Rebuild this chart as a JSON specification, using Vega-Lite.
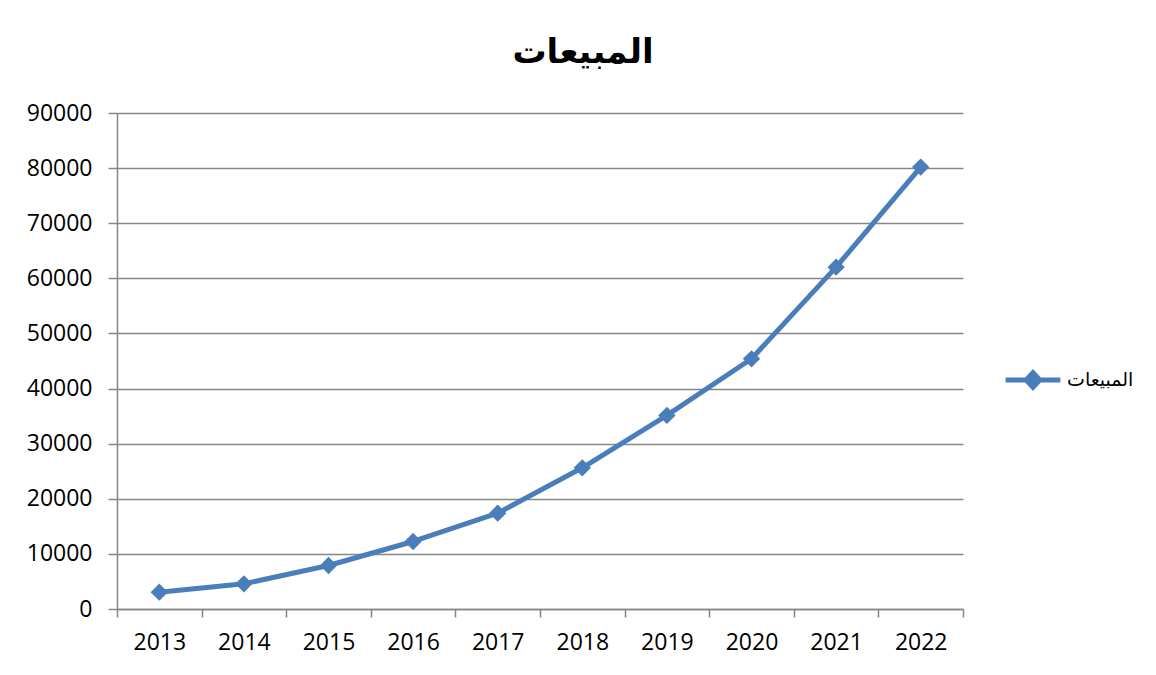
{
  "$schema": "https://vega.github.io/schema/vega-lite/v6.json",
  "width": 846,
  "height": 496,
  "autosize": {"type": "none"},
  "padding": {"left": 117, "top": 113, "right": 193, "bottom": 66},
  "background": "white",
  "title": {
    "text": "المبيعات",
    "font": "Liberation Sans, DejaVu Sans",
    "fontSize": 34,
    "fontWeight": "bold",
    "color": "black",
    "anchor": "middle",
    "dx": 43,
    "offset": 32
  },
  "data": {
    "values": [
      {"year": "2013", "sales": 3050, "series": "المبيعات"},
      {"year": "2014", "sales": 4570, "series": "المبيعات"},
      {"year": "2015", "sales": 7890, "series": "المبيعات"},
      {"year": "2016", "sales": 12250, "series": "المبيعات"},
      {"year": "2017", "sales": 17390, "series": "المبيعات"},
      {"year": "2018", "sales": 25620, "series": "المبيعات"},
      {"year": "2019", "sales": 35120, "series": "المبيعات"},
      {"year": "2020", "sales": 45400, "series": "المبيعات"},
      {"year": "2021", "sales": 62030, "series": "المبيعات"},
      {"year": "2022", "sales": 80180, "series": "المبيعات"}
    ]
  },
  "encoding": {
    "x": {
      "field": "year",
      "type": "ordinal",
      "scale": {"type": "band", "paddingInner": 0, "paddingOuter": 0},
      "axis": {
        "title": null,
        "labelAngle": 0,
        "tickBand": "extent",
        "tickSize": 8,
        "labelPadding": 14,
        "grid": false
      }
    },
    "y": {
      "field": "sales",
      "type": "quantitative",
      "scale": {"domain": [0, 90000], "nice": false},
      "axis": {
        "title": null,
        "values": [0, 10000, 20000, 30000, 40000, 50000, 60000, 70000, 80000, 90000],
        "format": "d",
        "tickSize": 9,
        "labelPadding": 16,
        "grid": true
      }
    },
    "color": {
      "field": "series",
      "type": "nominal",
      "scale": {"range": ["#4A7EBB"]},
      "legend": {
        "title": null,
        "orient": "none",
        "legendX": 886,
        "legendY": 237,
        "symbolType": "M-1,0L1,0M-0.25,0L0,-0.27L0.25,0L0,0.27Z",
        "symbolSize": 3000,
        "symbolStrokeWidth": 5,
        "symbolFillColor": "#4A7EBB",
        "labelFont": "Liberation Sans, DejaVu Sans",
        "labelFontSize": 19,
        "labelColor": "black",
        "labelOffset": 4
      }
    }
  },
  "layer": [
    {"mark": {"type": "line", "strokeWidth": 5, "strokeJoin": "round"}},
    {"mark": {"type": "point", "shape": "diamond", "filled": true, "size": 300, "opacity": 1}}
  ],
  "config": {
    "view": {"stroke": null},
    "axis": {
      "domainColor": "#868686",
      "domainWidth": 1.5,
      "tickColor": "#868686",
      "tickWidth": 1.5,
      "gridColor": "#868686",
      "gridWidth": 1.5,
      "gridOpacity": 1,
      "labelFont": "Open Sans",
      "labelFontSize": 23,
      "labelColor": "black"
    }
  }
}
